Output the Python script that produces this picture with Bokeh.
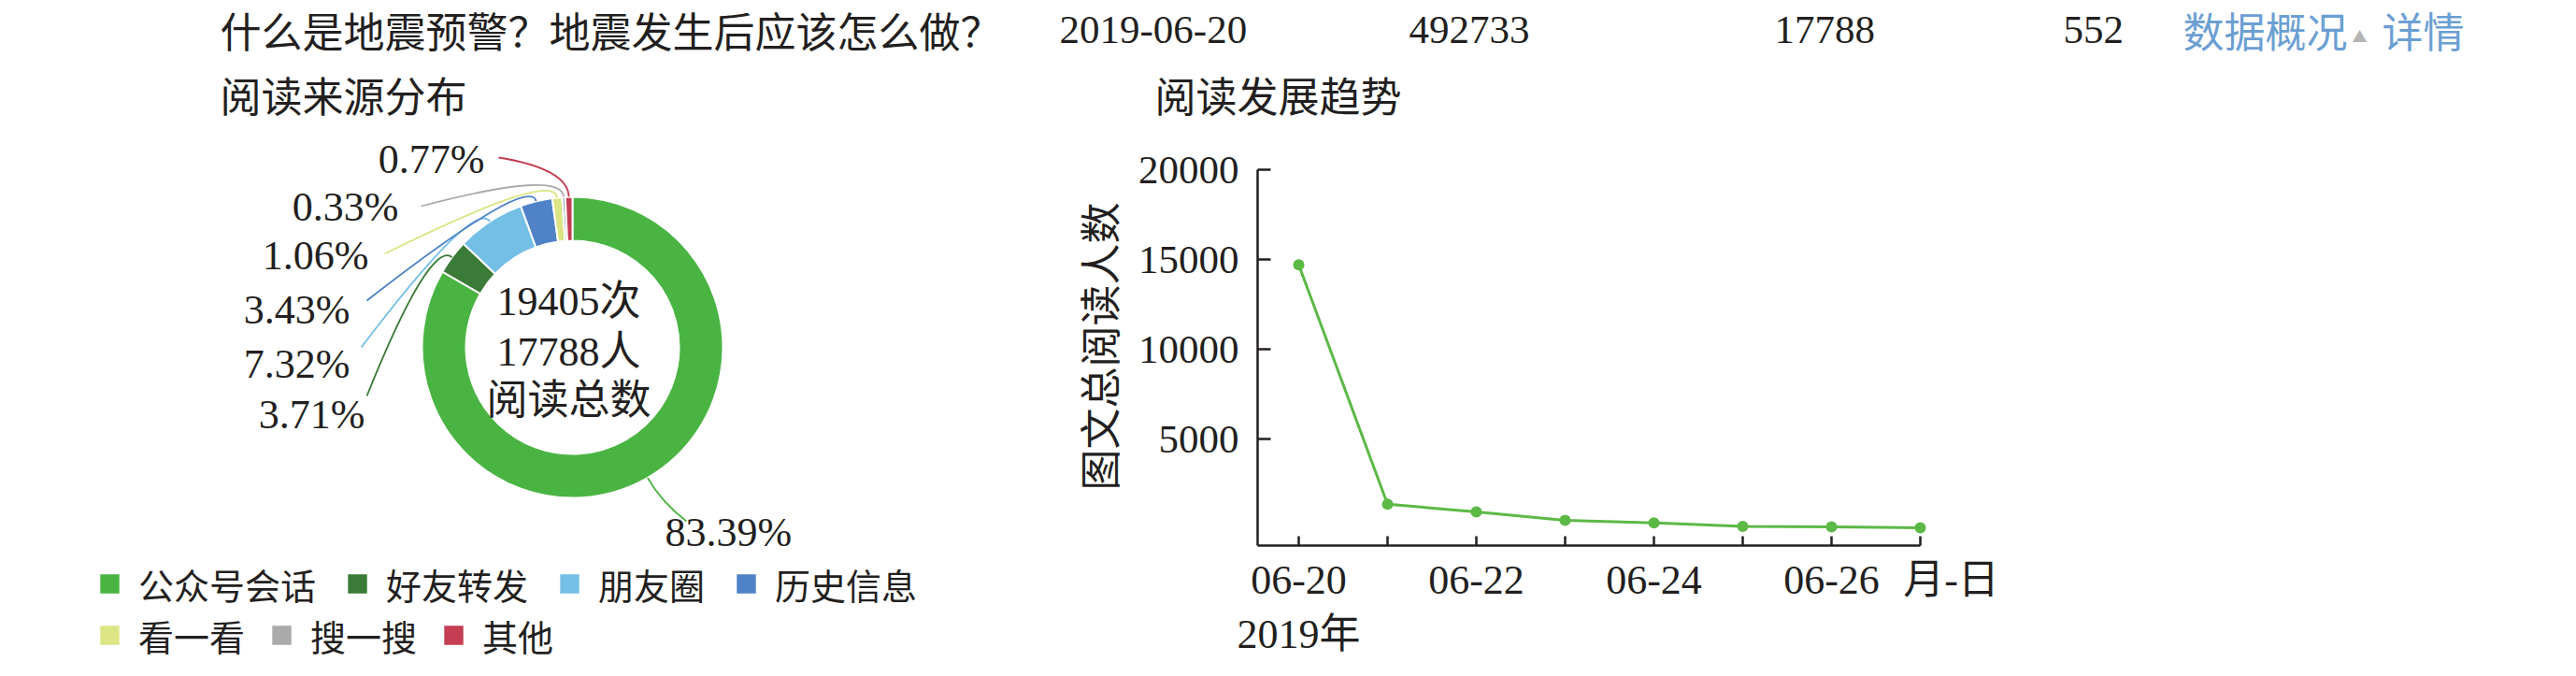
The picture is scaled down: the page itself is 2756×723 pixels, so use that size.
import numpy as np
from bokeh.plotting import figure
from bokeh.models import (Range1d, Legend, LegendItem, FixedTicker, ColumnDataSource,
                          LinearAxis)
from bokeh.embed import file_html
from bokeh.resources import INLINE
from bokeh.core.properties import value

# ---------------- data ----------------
article_title = "什么是地震预警？地震发生后应该怎么做？"
publish_date = "2019-06-20"
header_numbers = ["492733", "17788", "552"]
header_links = ["数据概况", "详情"]
pie_title = "阅读来源分布"
line_title = "阅读发展趋势"

sources = ["公众号会话", "好友转发", "朋友圈", "历史信息", "看一看", "搜一搜", "其他"]
source_pct = [83.39, 3.71, 7.32, 3.43, 1.06, 0.33, 0.77]
source_colors = ["#4ab443", "#3a7b37", "#74bfe6", "#4f82c6", "#dbe583", "#aaaaaa", "#c43d53"]
total_reads = 19405
total_people = 17788
center_caption = "阅读总数"

days = ["06-20", "06-21", "06-22", "06-23", "06-24", "06-25", "06-26", "06-27"]
day_readers = [14700, 1370, 940, 470, 330, 130, 110, 50]
y_ticks = [5000, 10000, 15000, 20000]
year_text = "2019年"
x_unit = "月-日"
y_title = "图文总阅读人数"

# ---------------- styles / layout ----------------
INK = "#231f20"
SERIF = "Liberation Serif, Noto Sans CJK SC"
CJK = "Noto Sans CJK SC"
LINK = "#6b9fd3"
LINE_GREEN = "#5cb946"

W, H = 2740, 707
M = 8  # page margin; plot coordinates = page pixels (x, -y)

p = figure(width=W, height=H, x_range=Range1d(M, M + W), y_range=Range1d(-(M + H), -M),
           x_axis_location=None, y_axis_location=None, toolbar_location=None,
           output_backend="svg", min_border=0, outline_line_color=None)
p.grid.visible = False


def ptext(txt, px, py, size, font, color=INK, align="left", angle=0.0):
    p.text(x=[px], y=[-py], text=[txt], text_font=value(font),
           text_font_size=value(size), text_color=color, text_align=align,
           text_baseline="middle", angle=angle)


# ---------- header row ----------
HEAD_Y = 39
ptext(article_title, 243, HEAD_Y, "44px", CJK)
ptext(publish_date, 1141, HEAD_Y, "43px", "Liberation Serif")
for txt, px in zip(header_numbers, [1515, 1906, 2215]):
    ptext(txt, px, HEAD_Y, "43px", "Liberation Serif")
ptext(header_links[0], 2343, HEAD_Y, "44px", CJK, color=LINK)
ptext("▲", 2532, HEAD_Y + 6, "16px", CJK, color="#b5b5b5", align="center")
ptext(header_links[1], 2556, HEAD_Y, "44px", CJK, color=LINK)

# ---------- donut ----------
ptext(pie_title, 243, 108, "44px", CJK)

frac = np.array(source_pct) / sum(source_pct)
cum = np.concatenate([[0.0], np.cumsum(frac)])
start = np.pi / 2 - 2 * np.pi * cum[:-1]
end = np.pi / 2 - 2 * np.pi * cum[1:]
mid = (start + end) / 2
CX, CY = 620, 379
R_IN, R_OUT = 114, 161

pie_src = ColumnDataSource(dict(name=sources, pct=source_pct, color=source_colors,
                                start=start, end=end))
wedges = p.annular_wedge(x=CX, y=-CY, inner_radius=R_IN, outer_radius=R_OUT,
                         start_angle="start", end_angle="end", direction="clock",
                         fill_color="color", line_color="white", line_width=2,
                         source=pie_src)

lab_pos = [(719, 577, "left"), (398, 451, "right"), (382, 397, "right"),
           (382, 339, "right"), (402, 281, "right"), (434, 229, "right"),
           (526, 178, "right")]
line_end = [(742, 565), (400, 431), (394, 379), (400, 329), (419, 279),
            (458, 228), (541, 176)]
x0s, y0s, cxs, cys, x1s, y1s = [], [], [], [], [], []
for i in range(len(sources)):
    a = mid[i]
    x0s.append(CX + R_OUT * np.cos(a)); y0s.append(-(CY - R_OUT * np.sin(a)))
    cxs.append(CX + (R_OUT + 30) * np.cos(a)); cys.append(-(CY - (R_OUT + 30) * np.sin(a)))
    x1s.append(line_end[i][0]); y1s.append(-line_end[i][1])
p.quadratic(x0=x0s, y0=y0s, x1=x1s, y1=y1s, cx=cxs, cy=cys,
            line_color=source_colors, line_width=1.8)
for i, pct in enumerate(source_pct):
    lx, ly, al = lab_pos[i]
    ptext(f"{pct:.2f}%", lx, ly, "44px", "Liberation Serif", align=al)

ptext(f"{total_reads}次", 616, 330, "44px", SERIF, align="center")
ptext(f"{total_people}人", 616, 384, "44px", SERIF, align="center")
ptext(center_caption, 616, 431, "44px", CJK, align="center")

LEG_FS = 38
for ly_center, idxs, gap in [(632, [0, 1, 2, 3], 30), (687, [4, 5, 6], 25)]:
    items = [LegendItem(label=sources[i], renderers=[wedges], index=i) for i in idxs]
    leg = Legend(items=items, orientation="horizontal",
                 location=(103, (M + H) - ly_center - 0.724 * LEG_FS),
                 glyph_width=28, glyph_height=28, label_standoff=17, spacing=gap,
                 padding=0, margin=0, border_line_alpha=0, background_fill_alpha=0,
                 label_text_font=CJK, label_text_font_size=f"{LEG_FS}px",
                 label_text_color=INK, label_text_baseline="middle")
    p.add_layout(leg)

# ---------- line chart (own ranges mapped onto the page) ----------
FR_L, FR_R, FR_T, FR_B = 1353, 2062, 189, 591
DAY0_PX = 1397
Y_LO, Y_HI = -937, 20000
px_per_day = (FR_R - DAY0_PX) / (len(days) - 1)
x_lo = (FR_L - DAY0_PX) / px_per_day
u_per_px = (Y_HI - Y_LO) / (FR_B - FR_T)
p.extra_x_ranges = {"day": Range1d((M - DAY0_PX) / px_per_day, (M + W - DAY0_PX) / px_per_day)}
p.extra_y_ranges = {"readers": Range1d(Y_LO - (M + H - FR_B) * u_per_px,
                                       Y_HI + (FR_T - M) * u_per_px)}

ptext(line_title, 1243, 108, "44px", CJK)
ptext(y_title, 1182, 378, "44px", CJK, align="center", angle=np.pi / 2)
ptext(x_unit, 2095, 628, "44px", SERIF, align="center")

overrides = {i: (days[i] if i % 2 == 0 else "") for i in range(len(days))}
overrides[0] = days[0] + "\n" + year_text
xax = LinearAxis(x_range_name="day", y_range_name="readers", fixed_location=Y_LO,
                 bounds=(x_lo, len(days) - 1),
                 ticker=FixedTicker(ticks=list(range(len(days)))),
                 major_label_overrides=overrides)
yax = LinearAxis(x_range_name="day", y_range_name="readers", fixed_location=x_lo,
                 bounds=(Y_LO, Y_HI), ticker=FixedTicker(ticks=y_ticks))
for ax, tick_in, fs, so in [(xax, 10, "44px", 12), (yax, 14, "43px", 20)]:
    ax.axis_line_width = 2.5
    ax.axis_line_color = INK
    ax.major_tick_in = tick_in
    ax.major_tick_out = 0
    ax.major_tick_line_width = 2.5
    ax.major_tick_line_color = INK
    ax.minor_tick_line_color = None
    ax.major_label_text_font = SERIF
    ax.major_label_text_font_size = fs
    ax.major_label_text_color = INK
    ax.major_label_standoff = so
p.add_layout(xax, "below")
p.add_layout(yax, "left")

src = ColumnDataSource(dict(x=list(range(len(days))), y=day_readers, day=days))
p.line("x", "y", source=src, x_range_name="day", y_range_name="readers",
       line_color=LINE_GREEN, line_width=3)
p.scatter("x", "y", source=src, x_range_name="day", y_range_name="readers",
          size=12, fill_color=LINE_GREEN, line_color=None)

open("out.html", "w").write(file_html(p, INLINE))
